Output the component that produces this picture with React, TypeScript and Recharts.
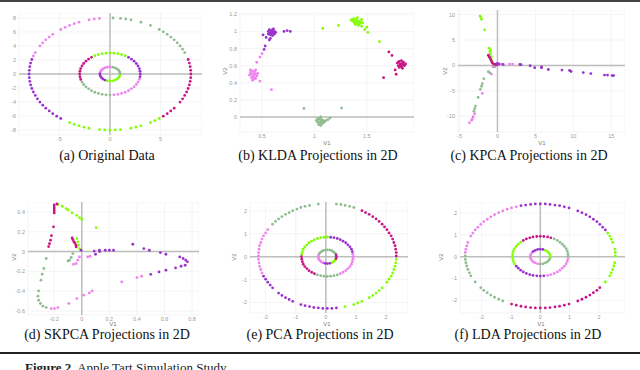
import React from "react";
import {
  ScatterChart,
  Scatter,
  XAxis,
  YAxis,
  CartesianGrid,
  ReferenceLine,
} from "recharts";

type Pt = [number, number];

const PINK = "#EE82EE";
const SEA = "#8FBC8F";
const LIME = "#7FFF00";
const RED = "#C71585";
const PURPLE = "#9932CC";

// (a) original data: three rings
const origPink: Pt[] = [
  [-1.04, 7.93], [-1.56, 7.85], [-2.07, 7.73], [-3.06, 7.39], [-3.54, 7.18], [-4.0, 6.93], [-4.44, 6.65], [-4.87, 6.35], [-5.66, 5.66],
  [-6.01, 5.27], [-6.35, 4.87], [-6.65, 4.44], [-6.93, 4.0], [-7.39, 3.06], [-7.58, 2.57],
  [2.9, -0.78], [2.77, -1.15], [2.6, -1.5], [2.38, -1.83], [2.12, -2.12], [1.83, -2.38], [1.5, -2.6], [1.15, -2.77], [0.78, -2.9], [0.39, -2.97],
  [0, 1], [-0.26, 0.97], [-0.5, 0.87], [-0.71, 0.71], [-0.87, 0.5], [-0.97, 0.26],
];
const origGreen: Pt[] = [
  [0.3, 7.99], [1.04, 7.93], [1.56, 7.85], [2.07, 7.73], [3.06, 7.39], [4.0, 6.93], [4.87, 6.35], [5.27, 6.01], [5.66, 5.66], [6.01, 5.27],
  [6.35, 4.87], [6.65, 4.44], [6.93, 4.0], [7.18, 3.54], [7.39, 3.06],
  [0, -3], [-0.39, -2.97], [-0.78, -2.9], [-1.15, -2.77], [-1.5, -2.6], [-1.83, -2.38], [-2.12, -2.12], [-2.38, -1.83], [-2.6, -1.5], [-2.77, -1.15],
  [1, 0], [0.97, 0.26], [0.87, 0.5], [0.71, 0.71], [0.5, 0.87], [0.26, 0.97],
];
const origLime: Pt[] = [
  [4.87, -6.35], [4.44, -6.65], [4.0, -6.93], [3.06, -7.39], [2.57, -7.58], [2.07, -7.73], [1.04, -7.93], [0.52, -7.98], [0, -8], [-0.52, -7.98],
  [-1.04, -7.93], [-2.07, -7.73], [-2.57, -7.58], [-3.06, -7.39], [-3.54, -7.18], [-4.0, -6.93],
  [-1.5, 2.6], [-1.15, 2.77], [-0.78, 2.9], [-0.39, 2.97], [0, 3], [0.39, 2.97], [0.78, 2.9], [1.15, 2.77], [1.5, 2.6],
  [-0.26, -0.97], [0, -1], [0.26, -0.97], [0.5, -0.87], [0.71, -0.71], [0.87, -0.5], [0.97, -0.26],
];
const origRed: Pt[] = [
  [7.73, 2.07], [7.85, 1.56], [7.93, 1.04], [7.98, 0.52], [8, 0], [7.98, -0.52], [7.93, -1.04], [7.85, -1.56], [7.73, -2.07], [7.58, -2.57],
  [7.39, -3.06], [7.18, -3.54], [6.93, -4.0], [6.35, -4.87], [6.01, -5.27], [5.66, -5.66], [5.27, -6.01],
  [-2.9, -0.78], [-2.97, -0.39], [-3, 0], [-2.97, 0.39], [-2.9, 0.78], [-2.77, 1.15], [-2.6, 1.5], [-2.38, 1.83], [-2.12, 2.12], [-1.83, 2.38],
];
const origPurple: Pt[] = [
  [-4.87, -6.35], [-5.27, -6.01], [-5.66, -5.66], [-6.01, -5.27], [-6.35, -4.87], [-6.65, -4.44], [-6.93, -4.0], [-7.18, -3.54], [-7.39, -3.06],
  [-7.58, -2.57], [-7.73, -2.07], [-7.85, -1.56], [-7.93, -1.04], [-7.98, -0.52], [-8, 0], [-7.98, 0.52], [-7.93, 1.04], [-7.85, 1.56], [-7.73, 2.07],
  [1.83, 2.38], [2.12, 2.12], [2.38, 1.83], [2.6, 1.5], [2.77, 1.15], [2.9, 0.78], [2.97, 0.39], [3, 0], [2.97, -0.39],
  [-1, 0], [-0.97, -0.26], [-0.87, -0.5], [-0.71, -0.71], [-0.5, -0.87],
];

// (b) KLDA clusters
const kldaPink: Pt[] = [
  [0.39, 0.52], [0.4, 0.5], [0.41, 0.54], [0.42, 0.51], [0.43, 0.53], [0.44, 0.5], [0.41, 0.47], [0.43, 0.46], [0.45, 0.48],
  [0.4, 0.46], [0.42, 0.44], [0.44, 0.45], [0.38, 0.49], [0.46, 0.51], [0.42, 0.48], [0.39, 0.55], [0.44, 0.55], [0.41, 0.43],
  [0.45, 0.64], [0.48, 0.7], [0.5, 0.74], [0.48, 0.42], [0.59, 0.32],
];
const kldaPurple: Pt[] = [
  [0.56, 1.0], [0.57, 0.98], [0.58, 1.01], [0.59, 0.99], [0.6, 1.02], [0.61, 0.98], [0.62, 1.0], [0.58, 0.96], [0.6, 0.95],
  [0.57, 1.02], [0.61, 1.03], [0.63, 0.99], [0.59, 0.97], [0.6, 1.0], [0.62, 0.97], [0.56, 0.97],
  [0.53, 0.83], [0.52, 0.79], [0.51, 0.96], [0.54, 0.93], [0.57, 0.9], [0.58, 0.92], [0.71, 1.0], [0.74, 1.01], [0.77, 1.0],
];
const kldaLime: Pt[] = [
  [1.36, 1.14], [1.37, 1.12], [1.38, 1.15], [1.39, 1.11], [1.4, 1.13], [1.41, 1.1], [1.42, 1.12], [1.43, 1.09], [1.44, 1.11],
  [1.39, 1.08], [1.41, 1.16], [1.45, 1.14], [1.38, 1.1], [1.42, 1.07], [1.46, 1.1], [1.35, 1.13], [1.4, 1.09],
  [1.08, 1.035], [1.23, 1.07], [1.5, 1.05], [1.48, 1.02], [1.51, 0.99], [1.62, 0.88], [1.45, 1.06],
];
const kldaRed: Pt[] = [
  [1.79, 0.63], [1.8, 0.6], [1.81, 0.65], [1.82, 0.62], [1.83, 0.59], [1.84, 0.63], [1.85, 0.61], [1.86, 0.6], [1.81, 0.58],
  [1.83, 0.66], [1.8, 0.64], [1.84, 0.57], [1.87, 0.62], [1.82, 0.6], [1.85, 0.64], [1.83, 0.61],
  [1.71, 0.76], [1.74, 0.72], [1.77, 0.55], [1.78, 0.5], [1.66, 0.46],
];
const kldaGreen: Pt[] = [
  [1.02, -0.04], [1.03, -0.06], [1.04, -0.03], [1.05, -0.07], [1.06, -0.05], [1.07, -0.08], [1.08, -0.04], [1.09, -0.06], [1.05, -0.02],
  [1.07, -0.03], [1.1, -0.05], [1.04, -0.09], [1.06, -0.1], [1.08, -0.07], [1.11, -0.04], [1.03, -0.02], [1.06, 0.0],
  [0.9, 0.1], [1.26, 0.105], [1.15, -0.01], [1.13, -0.03],
];

// (c) KPCA
const kpcaLime: Pt[] = [
  [-2.3, 9.7], [-2.2, 9.5], [-2.1, 9.1], [-1.7, 7.0], [-1.1, 3.4], [-0.9, 3.0], [-1.0, 2.7], [-0.9, 2.3], [-0.8, 1.7], [-0.8, 1.05], [-0.7, 0.7], [-0.6, 0.4],
];
const kpcaRed: Pt[] = [
  [-1.2, 2.0], [-1.1, 1.7], [-1.0, 1.5], [-0.9, 1.2], [-0.8, 0.85], [-0.7, 0.5], [-0.5, 0.26], [-0.3, 0.2], [-0.1, 0.13],
];
const kpcaPurple: Pt[] = [
  [0, 0.4], [0.2, 0.26], [0.75, 0.2], [2.95, 0.2], [3.1, 0.15], [4.3, -0.07], [4.9, -0.46], [5.8, -0.46], [5.8, -0.3], [6.7, -0.8],
  [8.5, -0.92], [9.5, -1.0], [9.7, -1.2], [11.3, -1.4], [12.3, -1.6], [14.1, -1.9], [14.5, -1.9], [15.1, -2.0], [15.3, -2.0],
];
const kpcaPink: Pt[] = [
  [-0.1, 0.4], [0.5, 0.26], [1.6, 0.26], [2.0, 0.26], [-0.6, -0.26], [-0.8, -1.7], [-2.0, -5.5], [-3.0, -9.5], [-3.2, -10.1], [-3.3, -10.5], [-3.4, -10.8], [-3.7, -11.3],
];
const kpcaGreen: Pt[] = [
  [-0.35, -0.26], [-1.0, -1.45], [-1.2, -1.25], [-1.8, -2.6], [-2.0, -3.6], [-2.1, -4.1], [-2.25, -4.7], [-2.55, -6.3], [-2.9, -8.0], [-3.0, -8.5], [-3.1, -9.0],
];

// (d) SKPCA
const skpcaRed: Pt[] = [
  [-0.2, 0.47], [-0.2, 0.45], [-0.2, 0.43], [-0.2, 0.41], [-0.2, 0.39], [-0.18, 0.48], [-0.205, 0.25], [-0.22, 0.16], [-0.227, 0.115], [-0.234, 0.08], [-0.24, 0.05],
  [-0.07, 0.138], [-0.065, 0.121], [-0.058, 0.101], [-0.051, 0.087], [-0.043, 0.067], [-0.041, 0.047],
];
const skpcaLime: Pt[] = [
  [-0.173, 0.474], [-0.142, 0.457], [-0.113, 0.434], [-0.1, 0.42], [-0.07, 0.39], [-0.036, 0.366], [-0.017, 0.343], [0, 0.326], [0.104, 0.242],
  [-0.036, 0.131], [-0.029, 0.097], [-0.024, 0.064], [-0.017, 0.03],
];
const skpcaPurple: Pt[] = [
  [-0.005, 0.013], [0.09, 0.005], [0.1, -0.027], [0.128, 0.013], [0.13, 0], [0.17, 0.013], [0.2, 0.013], [0.23, 0.013], [0.37, 0.074], [0.45, 0.03],
  [0.49, 0.013], [0.57, -0.01], [0.61, -0.027], [0.71, -0.054], [0.735, -0.07], [0.754, -0.087], [0.766, -0.104], [0.75, -0.138], [0.72, -0.148],
  [0.68, -0.165], [0.61, -0.188], [0.56, -0.205], [0.5, -0.23],
];
const skpcaPink: Pt[] = [
  [0.29, -0.306], [0.4, -0.262], [0.434, -0.249], [0.075, -0.397], [0.055, -0.417], [0.014, -0.44], [-0.036, -0.474], [-0.094, -0.524], [-0.173, -0.565],
  [-0.198, -0.575], [-0.222, -0.575], [-0.017, -0.054], [-0.029, -0.087], [-0.041, -0.121], [-0.06, -0.128], [0.043, -0.054], [0.06, -0.047],
];
const skpcaGreen: Pt[] = [
  [-0.089, -0.087], [-0.1, -0.094], [-0.077, -0.06], [-0.065, -0.02], [-0.258, -0.07], [-0.275, -0.171], [-0.287, -0.229], [-0.296, -0.289],
  [-0.313, -0.397], [-0.318, -0.45], [-0.313, -0.49], [-0.3, -0.524], [-0.282, -0.551], [-0.258, -0.565],
];

// (e) PCA
const pcaPink: Pt[] = [
  [-1.93, 1.18], [-2.0, 1.04], [-2.07, 0.91], [-2.12, 0.77], [-2.16, 0.62], [-2.2, 0.48], [-2.22, 0.33], [-2.24, 0.18], [-2.24, 0.03], [-2.24, -0.12],
  [-2.22, -0.27], [-2.2, -0.42], [-2.16, -0.56], [-2.12, -0.71],
  [0.9, 0.11], [0.91, 0], [0.9, -0.11], [0.88, -0.22], [0.85, -0.33], [0.8, -0.43], [0.73, -0.52], [0.66, -0.61], [0.57, -0.68], [0.48, -0.745],
  [-0.24, 0.08], [-0.25, 0], [-0.24, -0.08], [-0.21, -0.15], [-0.16, -0.21], [-0.1, -0.26],
];
const pcaGreen: Pt[] = [
  [-1.77, 1.42], [-1.67, 1.54], [-1.57, 1.65], [-1.46, 1.75], [-1.34, 1.85], [-1.22, 1.93], [-1.1, 2.01], [-0.96, 2.08], [-0.83, 2.15], [-0.69, 2.2],
  [-0.54, 2.24], [-0.25, 2.3], [0.35, 2.3], [0.5, 2.28], [0.64, 2.24], [0.79, 2.2], [0.93, 2.15],
  [0.38, -0.795], [0.27, -0.83], [0.16, -0.85], [0.05, -0.86], [-0.06, -0.85], [-0.17, -0.83], [-0.28, -0.795],
  [0.31, 0.15], [0.26, 0.21], [0.2, 0.26], [0.13, 0.29], [0.05, 0.3], [-0.03, 0.29], [-0.1, 0.26], [-0.16, 0.21], [-0.21, 0.15],
];
const pcaRed: Pt[] = [
  [1.2, 2.01], [1.32, 1.93], [1.44, 1.85], [1.56, 1.75], [1.67, 1.65], [1.77, 1.54], [1.87, 1.42], [1.95, 1.3], [2.03, 1.18], [2.1, 1.04],
  [2.17, 0.91], [2.22, 0.77], [2.26, 0.62], [2.3, 0.48], [2.32, 0.33], [2.34, 0.18], [2.34, 0.03],
  [-0.38, -0.745], [-0.47, -0.68], [-0.56, -0.61], [-0.63, -0.52], [-0.7, -0.43], [-0.75, -0.33], [-0.78, -0.22], [-0.8, -0.11], [-0.81, 0],
  [0.34, -0.08], [0.35, 0], [0.34, 0.08],
];
const pcaLime: Pt[] = [
  [2.34, -0.12], [2.32, -0.27], [2.3, -0.42], [2.26, -0.56], [2.22, -0.71], [2.17, -0.85], [2.1, -0.98], [2.03, -1.115], [1.87, -1.36], [1.77, -1.48],
  [1.67, -1.59], [1.56, -1.69], [1.44, -1.79], [1.2, -1.95], [1.06, -2.02], [0.93, -2.09], [0.64, -2.18],
  [0.05, 0.86], [-0.06, 0.85], [-0.17, 0.83], [-0.28, 0.795], [-0.38, 0.745], [-0.47, 0.68], [-0.56, 0.61], [-0.63, 0.52], [-0.7, 0.43], [-0.75, 0.33], [-0.78, 0.22], [-0.8, 0.11],
  [0.2, -0.26], [0.26, -0.21], [0.31, -0.15],
];
const pcaPurple: Pt[] = [
  [0.35, -2.24], [0.2, -2.26], [0.05, -2.26], [-0.1, -2.26], [-0.25, -2.24], [-0.4, -2.22], [-0.54, -2.18], [-0.69, -2.14], [-0.83, -2.09], [-1.1, -1.95],
  [-1.22, -1.87], [-1.34, -1.79], [-1.46, -1.69], [-1.57, -1.59], [-1.77, -1.36], [-1.85, -1.24], [-1.93, -1.115], [-2.0, -0.98], [-2.07, -0.85],
  [0.16, 0.85], [0.27, 0.83], [0.38, 0.795], [0.48, 0.745], [0.57, 0.68], [0.66, 0.61], [0.73, 0.52], [0.8, 0.43], [0.85, 0.33], [0.88, 0.22],
  [-0.03, -0.29], [0.05, -0.3], [0.13, -0.29],
];

// (f) LDA
const ldaPurple: Pt[] = [
  [-0.66, 2.33], [-0.5, 2.36], [-0.33, 2.39], [-0.17, 2.41], [0, 2.41], [0.17, 2.41], [0.33, 2.39], [0.5, 2.36], [0.66, 2.33], [0.82, 2.28],
  [0.98, 2.23], [1.28, 2.09], [1.42, 2.01], [1.56, 1.92], [1.69, 1.82], [1.81, 1.71], [1.93, 1.6], [2.03, 1.48], [2.13, 1.35], [2.22, 1.22],
  [-0.82, -0.435], [-0.75, -0.53], [-0.67, -0.62], [-0.58, -0.7], [-0.475, -0.77], [-0.36, -0.82], [-0.25, -0.86], [-0.12, -0.88], [0, -0.89], [0.12, -0.88],
  [0.09, 0.33], [0, 0.34], [-0.09, 0.33], [-0.17, 0.29], [-0.24, 0.24],
];
const ldaLime: Pt[] = [
  [2.3, 1.08], [2.37, 0.94], [2.42, 0.8], [2.47, 0.65], [2.54, 0.34], [2.56, 0.19], [2.56, 0.03], [2.54, -0.28], [2.51, -0.43], [2.47, -0.59],
  [2.42, -0.74], [2.37, -0.88], [2.22, -1.16],
  [-0.67, 0.66], [-0.75, 0.57], [-0.82, 0.475], [-0.88, 0.37], [-0.92, 0.26], [-0.94, 0.14], [-0.95, 0.02], [-0.94, -0.1], [-0.92, -0.22], [-0.88, -0.33],
  [0.34, 0], [0.33, 0.09], [0.29, 0.17], [0.24, 0.24], [0.17, 0.29],
];
const ldaRed: Pt[] = [
  [2.03, -1.42], [1.93, -1.54], [1.81, -1.65], [1.69, -1.76], [1.56, -1.86], [1.42, -1.95], [1.28, -2.03], [0.98, -2.17], [0.82, -2.22], [0.66, -2.27],
  [0.5, -2.3], [0.33, -2.33], [0.17, -2.35], [0, -2.35], [-0.17, -2.35], [-0.33, -2.33], [-0.5, -2.3], [-0.66, -2.27], [-0.82, -2.22], [-0.98, -2.17],
  [-0.58, 0.74], [-0.475, 0.81], [-0.36, 0.86], [-0.25, 0.9], [-0.12, 0.92], [0, 0.93], [0.12, 0.92], [0.25, 0.9], [0.36, 0.86],
];
const ldaGreen: Pt[] = [
  [-1.28, -2.03], [-1.42, -1.95], [-1.56, -1.86], [-1.69, -1.76], [-1.81, -1.65], [-1.93, -1.54], [-2.03, -1.42], [-2.22, -1.16], [-2.37, -0.88],
  [-2.42, -0.74], [-2.47, -0.59], [-2.51, -0.43], [-2.54, -0.28], [-2.56, -0.13], [-2.56, 0.03],
  [0.475, 0.81], [0.58, 0.74], [0.67, 0.66], [0.75, 0.57], [0.82, 0.475], [0.88, 0.37], [0.92, 0.26], [0.94, 0.14], [0.95, 0.02],
  [0, -0.34], [0.09, -0.33], [0.17, -0.29], [0.24, -0.24], [0.29, -0.17], [0.33, -0.09],
];
const ldaPink: Pt[] = [
  [-2.56, 0.19], [-2.54, 0.34], [-2.51, 0.49], [-2.47, 0.65], [-2.37, 0.94], [-2.3, 1.08], [-2.22, 1.22], [-2.13, 1.35], [-2.03, 1.48], [-1.93, 1.6],
  [-1.81, 1.71], [-1.69, 1.82], [-1.56, 1.92], [-1.42, 2.01], [-1.28, 2.09], [-1.13, 2.17], [-0.98, 2.23], [-0.82, 2.28],
  [0.25, -0.86], [0.36, -0.82], [0.475, -0.77], [0.58, -0.7], [0.67, -0.62], [0.75, -0.53], [0.82, -0.435], [0.88, -0.33], [0.92, -0.22], [0.94, -0.1],
  [-0.29, 0.17], [-0.33, 0.09], [-0.34, 0], [-0.33, -0.09], [-0.29, -0.17], [-0.24, -0.24], [-0.17, -0.29], [-0.09, -0.33],
];

const ticks2 = [-2, -1, 0, 1, 2];

type Series = { data: Pt[]; color: string };
type PanelProps = {
  x: number; y: number; w: number; h: number;
  xDomain: [number, number]; yDomain: [number, number];
  xTicks: number[]; yTicks: number[];
  zeroX?: boolean; zeroY?: boolean;
  series: Series[];
};

const YW = 18;
const XH = 10;
const tickStyle = { fontSize: 5.5, fill: "#9a9a9a", fontFamily: "Liberation Sans, sans-serif" };

function Panel(p: PanelProps) {
  return (
    <div style={{ position: "absolute", left: p.x - YW, top: p.y }}>
      <ScatterChart width={p.w + YW} height={p.h + XH} margin={{ top: 0, right: 0, bottom: 0, left: 0 }}>
        <CartesianGrid stroke="#efefef" strokeWidth={0.7} />
        <XAxis
          type="number" dataKey="x" domain={p.xDomain} ticks={p.xTicks} allowDataOverflow interval={0}
          axisLine={false} tickLine={false} tickSize={1} tickMargin={1} height={XH} tick={tickStyle}
        />
        <YAxis
          type="number" dataKey="y" domain={p.yDomain} ticks={p.yTicks} allowDataOverflow interval={0}
          axisLine={false} tickLine={false} tickSize={1} tickMargin={2} width={YW} tick={tickStyle}
        />
        {p.zeroY && <ReferenceLine y={0} stroke="#bdbdbd" strokeWidth={1.5} />}
        {p.zeroX && <ReferenceLine x={0} stroke="#bdbdbd" strokeWidth={1.5} />}
        {p.series.map((s, i) => (
          <Scatter
            key={i}
            data={s.data.map(([x, y]) => ({ x, y }))}
            fill={s.color}
            isAnimationActive={false}
            shape={(props: any) => <circle cx={props.cx} cy={props.cy} r={1.4} fill={s.color} />}
          />
        ))}
      </ScatterChart>
    </div>
  );
}

const axisTitle = (text: string, left: number, top: number, rotate = false) => (
  <div
    style={{
      position: "absolute", left: left - 8, top: top - 3, width: 16, height: 6, lineHeight: "6px",
      textAlign: "center", fontSize: 6, color: "#777", fontFamily: "Liberation Sans, sans-serif",
      transform: rotate ? "rotate(-90deg)" : undefined,
    }}
  >
    {text}
  </div>
);

const caption = (text: string, cx: number, cy: number) => (
  <div
    style={{
      position: "absolute", left: cx - 100, top: cy - 7, width: 200, height: 14, lineHeight: "14px",
      textAlign: "center", fontSize: 14, color: "#111", fontFamily: "Liberation Serif, serif", whiteSpace: "nowrap",
    }}
  >
    {text}
  </div>
);

export default function App() {
  return (
    <div style={{ position: "absolute", left: 0, top: 0, width: 640, height: 370, overflow: "hidden", background: "#fff" }}>
      <div style={{ position: "absolute", left: 0, top: 0, width: 640, height: 2, background: "#444" }} />

      <Panel
        x={19} y={13} w={183} h={122} xDomain={[-9, 9.1]} yDomain={[-8.7, 8.7]}
        xTicks={[-5, 0, 5]} yTicks={[-8, -6, -4, -2, 0, 2, 4, 6, 8]} zeroX zeroY
        series={[
          { data: origPink, color: PINK }, { data: origGreen, color: SEA }, { data: origLime, color: LIME },
          { data: origRed, color: RED }, { data: origPurple, color: PURPLE },
        ]}
      />
      <Panel
        x={240} y={12} w={174} h={120} xDomain={[0.29, 1.95]} yDomain={[-0.175, 1.227]}
        xTicks={[0.5, 1, 1.5]} yTicks={[0, 0.2, 0.4, 0.6, 0.8, 1, 1.2]} zeroY
        series={[
          { data: kldaPink, color: PINK }, { data: kldaGreen, color: SEA }, { data: kldaLime, color: LIME },
          { data: kldaRed, color: RED }, { data: kldaPurple, color: PURPLE },
        ]}
      />
      <Panel
        x={458} y={10} w={167} h={122} xDomain={[-5.2, 16.8]} yDomain={[-13.1, 10.9]}
        xTicks={[-5, 0, 5, 10, 15]} yTicks={[-10, -5, 0, 5, 10]} zeroX zeroY
        series={[
          { data: kpcaPink, color: PINK }, { data: kpcaGreen, color: SEA }, { data: kpcaLime, color: LIME },
          { data: kpcaRed, color: RED }, { data: kpcaPurple, color: PURPLE },
        ]}
      />
      <Panel
        x={28} y={202} w={171} h={113} xDomain={[-0.39, 0.85]} yDomain={[-0.64, 0.5]}
        xTicks={[-0.2, 0, 0.2, 0.4, 0.6, 0.8]} yTicks={[-0.6, -0.4, -0.2, 0, 0.2, 0.4]} zeroX zeroY
        series={[
          { data: skpcaPink, color: PINK }, { data: skpcaGreen, color: SEA }, { data: skpcaLime, color: LIME },
          { data: skpcaRed, color: RED }, { data: skpcaPurple, color: PURPLE },
        ]}
      />
      <Panel
        x={250} y={202} w={158} h={111} xDomain={[-2.52, 2.73]} yDomain={[-2.46, 2.39]}
        xTicks={ticks2} yTicks={ticks2} zeroX zeroY
        series={[
          { data: pcaPink, color: PINK }, { data: pcaGreen, color: SEA }, { data: pcaLime, color: LIME },
          { data: pcaRed, color: RED }, { data: pcaPurple, color: PURPLE },
        ]}
      />
      <Panel
        x={460} y={202} w={165} h={111} xDomain={[-2.74, 2.89]} yDomain={[-2.58, 2.5]}
        xTicks={ticks2} yTicks={ticks2} zeroX zeroY
        series={[
          { data: ldaPink, color: PINK }, { data: ldaGreen, color: SEA }, { data: ldaLime, color: LIME },
          { data: ldaRed, color: RED }, { data: ldaPurple, color: PURPLE },
        ]}
      />

      {axisTitle("V2", 225, 71, true)}
      {axisTitle("V1", 327, 143)}
      {axisTitle("V2", 445, 71, true)}
      {axisTitle("V1", 542, 143)}
      {axisTitle("V2", 14, 257, true)}
      {axisTitle("V1", 113, 324)}
      {axisTitle("V2", 234, 257, true)}
      {axisTitle("V1", 327, 324)}
      {axisTitle("V2", 441, 257, true)}
      {axisTitle("V1", 541, 324)}

      {caption("(a) Original Data", 107, 156)}
      {caption("(b) KLDA Projections in 2D", 318, 156)}
      {caption("(c) KPCA Projections in 2D", 529, 156)}
      {caption("(d) SKPCA Projections in 2D", 107, 335)}
      {caption("(e) PCA Projections in 2D", 320, 335)}
      {caption("(f) LDA Projections in 2D", 528, 335)}

      <div style={{ position: "absolute", left: 0, top: 352, width: 640, height: 1.5, background: "#222" }} />
      <div
        style={{
          position: "absolute", left: 25, top: 360, fontSize: 13, lineHeight: "16px", color: "#222",
          fontFamily: "Liberation Serif, serif", whiteSpace: "nowrap",
        }}
      >
        <b>Figure 2.</b> Apple Tart Simulation Study
      </div>
    </div>
  );
}
